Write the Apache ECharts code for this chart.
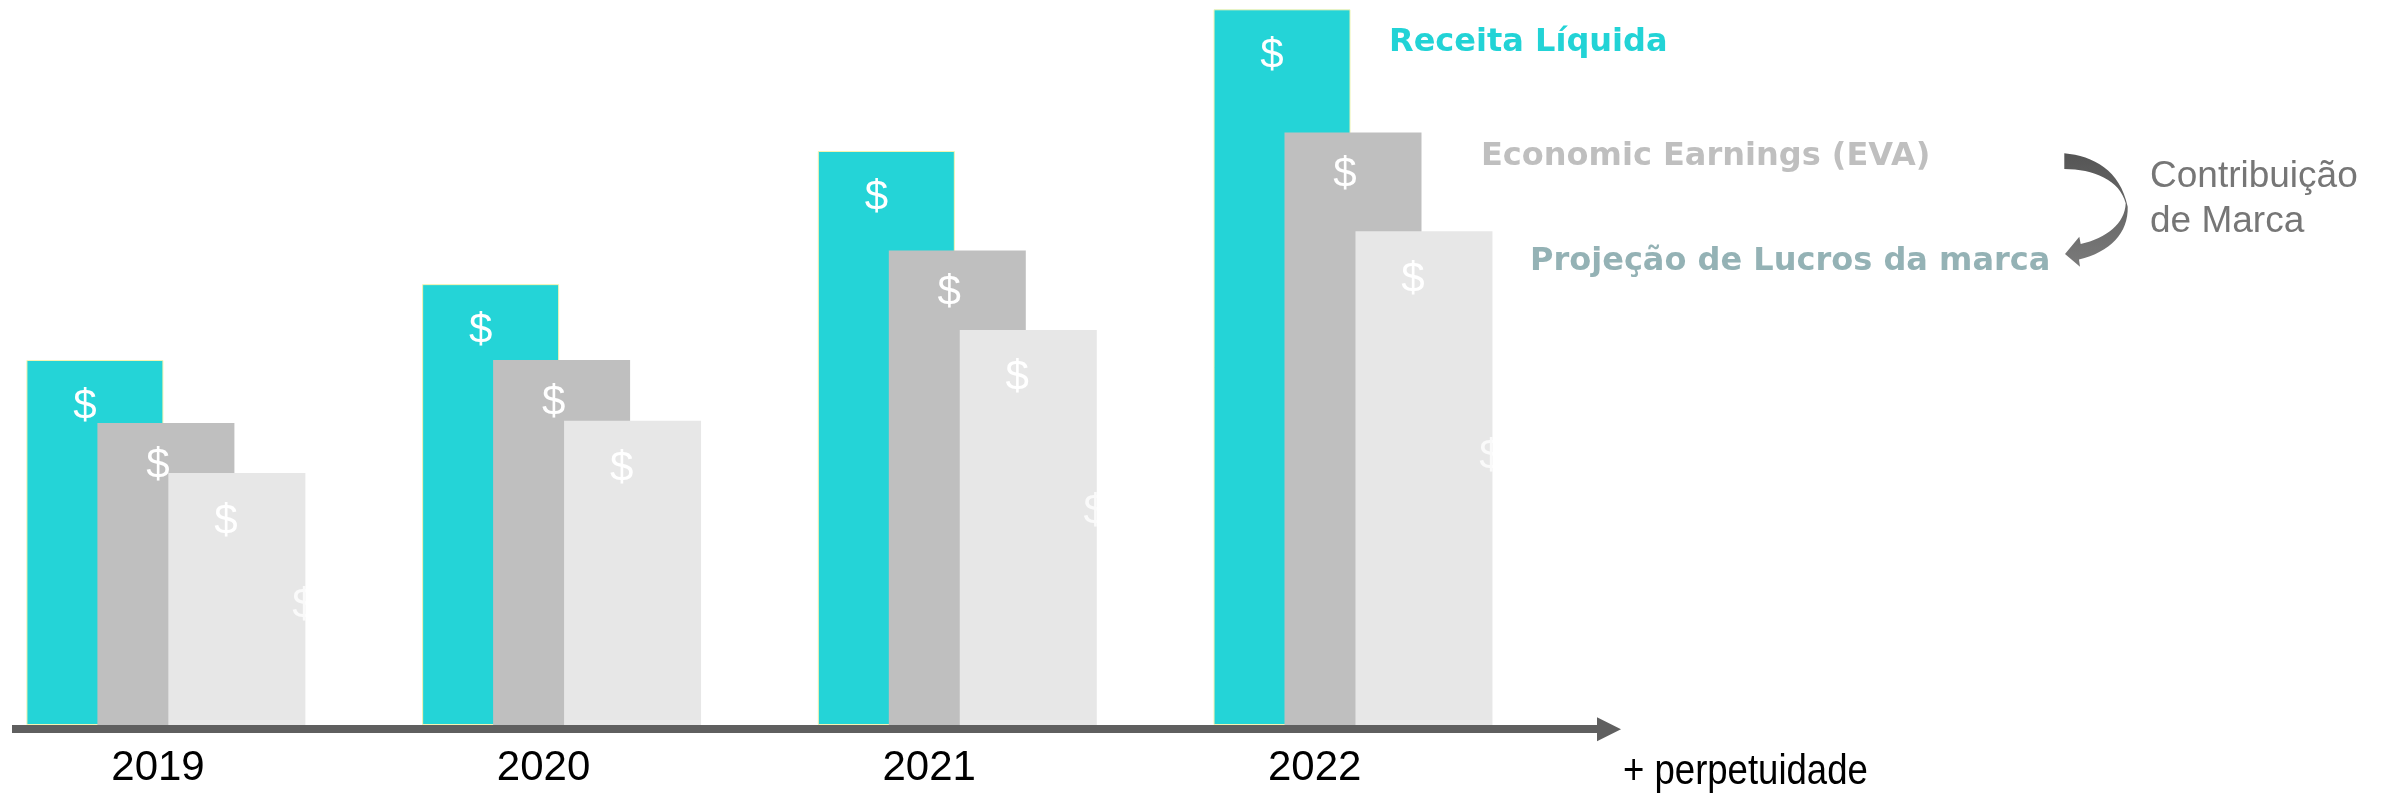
<!DOCTYPE html>
<html>
<head>
<meta charset="utf-8">
<script src="https://cdn.jsdelivr.net/npm/echarts@6/dist/echarts.min.js"></script>
<style>
html,body{margin:0;padding:0;background:#ffffff;}
#chart{width:2381px;height:802px;}
</style>
</head>
<body>
<div id="chart"></div>
<script>
// ---- data (arbitrary units, tallest bar = 100) ----
const years = ['2019', '2020', '2021', '2022'];
const receitaLiquida = [51.0, 61.6, 80.2, 100.0];
const economicEarnings = [42.2, 51.0, 66.3, 82.8];
const projecaoLucros = [35.2, 42.5, 55.2, 69.0];
// second, partly hidden "$" sign drawn at the right edge of the profit bars
const extraDollar = [16.9, null, 30.0, 37.7];
const seriesNames = ['Receita Líquida', 'Economic Earnings (EVA)', 'Projeção de Lucros da marca'];
const sideNote = 'Contribuição\nde Marca';
const axisNote = '+ perpetuidade';

// ---- styles ----
const barColors = ['#24D4D7', '#BFBFBF', '#E7E7E7'];
const legendColors = ['#22D3D6', '#BFBFBF', '#94B2B5'];
const legendLeft = [1384, 1476, 1525];
const legendTop = [27, 141, 246];
const dollarDistance = [26.4, 22.4, 27.9];
const dollarOffsetX = [-10, -8, -11];
const dollarFont = 42;

// curved "contribution" arrow shape (decoration)
const CurvedArrow = echarts.graphic.extendShape({
  shape: {},
  buildPath: function (ctx) {
    ctx.moveTo(2064.3, 153.3);
    ctx.bezierCurveTo(2093.3, 156, 2120, 170, 2127.7, 206.7);
    ctx.bezierCurveTo(2128.5, 233, 2110, 252, 2079, 259.5);
    ctx.lineTo(2080, 266.7);
    ctx.lineTo(2065, 254);
    ctx.lineTo(2079.3, 236.7);
    ctx.lineTo(2080.7, 244);
    ctx.bezierCurveTo(2106.7, 238.3, 2125, 223.3, 2125.7, 203.3);
    ctx.bezierCurveTo(2120, 180, 2093.3, 169, 2064.3, 169);
    ctx.closePath();
  }
});
echarts.graphic.registerShape('curvedArrow', CurvedArrow);

const chart = echarts.init(document.getElementById('chart'), null, {renderer: 'canvas'});

const dollarLabel = (i) => ({
  show: true,
  position: 'insideTop',
  distance: dollarDistance[i],
  offset: [dollarOffsetX[i], 0],
  formatter: '$',
  color: '#ffffff',
  fontFamily: 'Liberation Sans, Arial, sans-serif',
  fontSize: dollarFont
});

const valueSeries = [receitaLiquida, economicEarnings, projecaoLucros];

const barSeries = valueSeries.map((vals, i) => ({
  name: seriesNames[i],
  type: 'bar',
  xAxisIndex: 0,
  yAxisIndex: 0,
  data: vals,
  barWidth: 137,
  barGap: '-48.2%',
  clip: false,
  silent: true,
  itemStyle: i === 0
    ? {color: barColors[i], borderColor: '#f4f3b2', borderWidth: 1}
    : {color: barColors[i]},
  label: dollarLabel(i),
  emphasis: {disabled: true}
}));

const extraData = [];
extraDollar.forEach((v, i) => { if (v != null) extraData.push([i, v]); });

const option = {
  animation: false,
  backgroundColor: '#ffffff',
  grid: [
    // bars
    {left: 165.9, width: 1187.1, top: 9.3, bottom: 77, outerBoundsMode: 'none', containLabel: false},
    // year labels
    {left: 158, width: 1156.7, top: 9.3, bottom: 77, outerBoundsMode: 'none', containLabel: false},
    // arrow axis line
    {left: 12, width: 1597, top: 9.3, bottom: 72.8, outerBoundsMode: 'none', containLabel: false}
  ],
  xAxis: [
    {
      gridIndex: 0, type: 'category', data: years, boundaryGap: false,
      axisLine: {show: false}, axisTick: {show: false}, axisLabel: {show: false},
      splitLine: {show: false}
    },
    {
      gridIndex: 1, type: 'category', data: years, boundaryGap: false,
      axisLine: {show: false}, axisTick: {show: false}, splitLine: {show: false},
      axisLabel: {
        show: true, interval: 0, margin: 22,
        showMinLabel: true, showMaxLabel: true,
        alignMinLabel: 'center', alignMaxLabel: 'center',
        color: '#000000', fontSize: 42,
        fontFamily: 'Liberation Sans, Arial, sans-serif'
      }
    },
    {
      gridIndex: 2, type: 'value', min: 0, max: 1,
      axisLabel: {show: false}, axisTick: {show: false}, splitLine: {show: false},
      axisLine: {
        show: true, onZero: false,
        symbol: ['none', 'triangle'], symbolSize: [24, 24],
        lineStyle: {color: '#5F5F5F', width: 8, cap: 'butt'}
      }
    }
  ],
  yAxis: [
    {gridIndex: 0, type: 'value', min: 0, max: 100, show: false},
    {gridIndex: 1, type: 'value', min: 0, max: 100, show: false},
    {gridIndex: 2, type: 'value', min: 0, max: 100, show: false}
  ],
  legend: seriesNames.map((n, i) => ({
    data: [n],
    left: legendLeft[i],
    top: legendTop[i],
    orient: 'horizontal',
    padding: 0,
    itemWidth: 0,
    itemHeight: 32,
    itemGap: 0,
    selectedMode: false,
    icon: 'rect',
    itemStyle: {opacity: 0, borderWidth: 0},
    textStyle: {
      fontFamily: 'DejaVu Sans, Verdana, sans-serif',
      fontWeight: 'bold',
      fontSize: 32,
      color: legendColors[i],
      padding: 0
    }
  })),
  series: barSeries.concat([{
    name: 'extra-dollar',
    type: 'scatter',
    xAxisIndex: 0,
    yAxisIndex: 0,
    data: extraData,
    symbolSize: 1,
    clip: false,
    silent: true,
    itemStyle: {color: 'rgba(0,0,0,0)'},
    label: {
      show: true, position: 'inside', offset: [138, 2], formatter: '$',
      color: '#ffffff', fontSize: dollarFont,
      fontFamily: 'Liberation Sans, Arial, sans-serif'
    },
    emphasis: {disabled: true}
  }]),
  graphic: [
    {
      type: 'text',
      x: 1623, y: 772.5,
      scaleX: 0.87,
      silent: true,
      style: {
        text: axisNote,
        fill: '#000000',
        fontSize: 42,
        fontFamily: 'Liberation Sans, Arial, sans-serif',
        align: 'left',
        verticalAlign: 'middle'
      }
    },
    {
      type: 'text',
      x: 2150, y: 199,
      silent: true,
      style: {
        text: sideNote,
        fill: '#767676',
        fontSize: 37,
        lineHeight: 44.6,
        fontFamily: 'Liberation Sans, Arial, sans-serif',
        align: 'left',
        verticalAlign: 'middle'
      }
    },
    {
      type: 'curvedArrow',
      silent: true,
      shape: {},
      style: {
        fill: {
          type: 'linear', x: 0, y: 0, x2: 0, y2: 1,
          colorStops: [
            {offset: 0, color: '#555555'},
            {offset: 1, color: '#7a7a7a'}
          ]
        }
      }
    }
  ]
};

chart.setOption(option);
</script>
</body>
</html>
